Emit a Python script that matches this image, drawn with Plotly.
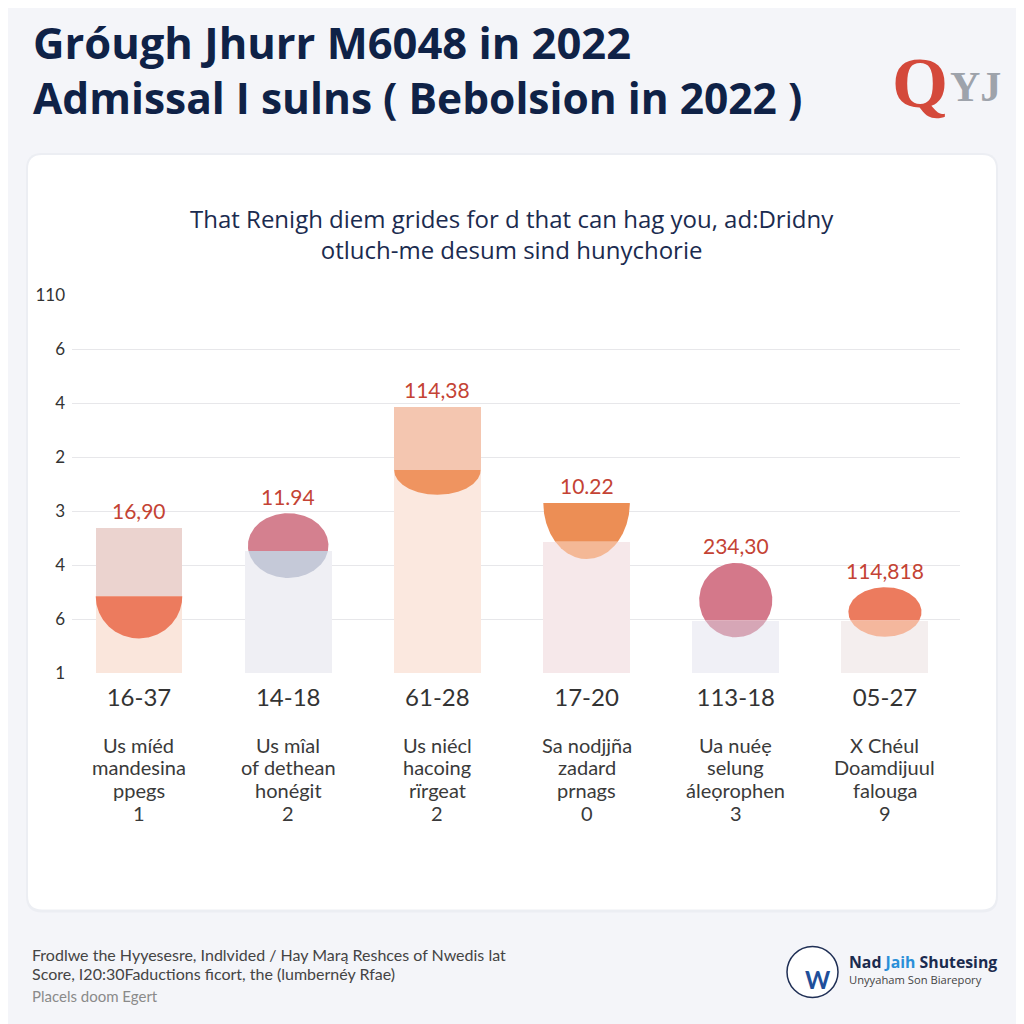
import numpy as np
import plotly.graph_objects as go

# ---------------- data ----------------
categories = ["16-37", "14-18", "61-28", "17-20", "113-18", "05-27"]
value_labels = ["16,90", "11.94", "114,38", "10.22", "234,30", "114,818"]
descriptions = [
    ["Us míéd", "mandesina", "ppegs", "1"],
    ["Us mîal", "of dethean", "honégit", "2"],
    ["Us niécl", "hacoing", "rïrgeat", "2"],
    ["Sa nodjjña", "zadard", "prnags", "0"],
    ["Ua nuéẹ", "selung", "áleọrophen", "3"],
    ["X Chéul", "Doamdijuul", "falouga", "9"],
]
bar_top = [2.69, 2.26, 4.93, 2.43, 0.97, 0.97]
band_bottom = [1.42, None, 3.76, None, None, None]
bulb_cy = [1.42, 2.36, 3.76, 3.15, 1.35, 1.13]
bulb_ry = [0.78, 0.60, 0.46, 1.04, 0.69, 0.46]
bulb_rx = [0.29, 0.27, 0.29, 0.29, 0.245, 0.245]
bulb_half = [True, False, True, True, False, False]
ytick_vals = [0, 1, 2, 3, 4, 5, 6, 7]
ytick_text = ["1", "6", "4", "3", "2", "4", "6", "110"]

# ---------------- styles ----------------
bar_colors = ["#fae6dc", "#efeff4", "#fbe8df", "#f6e8ea", "#f0f0f6", "#f4eeee"]
band_colors = ["#ebd3cf", None, "#f4c6b0", None, None, None]
bulb_above = ["#ec7b5e", "#d4808f", "#ef9460", "#ec8e55", "#d4788a", "#ec7b5e"]
bulb_below = ["#ec7b5e", "#c5c9d8", "#ef9460", "#f4b896", "#d6a6b6", "#f4b79d"]
NAVY = "#0f2247"
RED = "#c44334"
FONT = "Lato"
OS = "Open Sans"

# plot area in screen pixels (page body has an 8px margin)
OFF = 8
W = H = 1024 - OFF
L, R, T, B = 72, 960, 295, 673.3
def pxx(px):
    return (px - L) / (R - L)
def pxy(py):
    return (B - py) / (B - T)

fig = go.Figure()

xs = list(range(len(categories)))
fig.add_trace(go.Bar(x=xs, y=bar_top, width=0.583, marker=dict(color=bar_colors, line=dict(width=0)),
                     hoverinfo="skip", showlegend=False))
bx = [i for i in xs if band_bottom[i] is not None]
fig.add_trace(go.Bar(x=bx, y=[bar_top[i] - band_bottom[i] for i in bx], base=[band_bottom[i] for i in bx],
                     width=0.583, marker=dict(color=[band_colors[i] for i in bx], line=dict(width=0)),
                     hoverinfo="skip", showlegend=False))

def ellipse_segment(cx, cy, rx, ry, ylo, yhi, n=80):
    ylo = max(ylo, cy - ry)
    yhi = min(yhi, cy + ry)
    if yhi <= ylo:
        return None
    t0 = np.arcsin(np.clip((ylo - cy) / ry, -1, 1))
    t1 = np.arcsin(np.clip((yhi - cy) / ry, -1, 1))
    t = np.linspace(t0, t1, n)
    xr = cx + rx * np.cos(t)
    yr = cy + ry * np.sin(t)
    xl = cx - rx * np.cos(t[::-1])
    yl = cy + ry * np.sin(t[::-1])
    return np.concatenate([xr, xl, xr[:1]]), np.concatenate([yr, yl, yr[:1]])

for i in xs:
    top = bulb_cy[i] if bulb_half[i] else bulb_cy[i] + bulb_ry[i]
    bot = bulb_cy[i] - bulb_ry[i]
    for lo, hi, col in [(bar_top[i], top, bulb_above[i]), (bot, min(bar_top[i], top), bulb_below[i])]:
        seg = ellipse_segment(i, bulb_cy[i], bulb_rx[i], bulb_ry[i], lo, hi)
        if seg is None:
            continue
        fig.add_trace(go.Scatter(x=seg[0], y=seg[1], mode="lines", fill="toself", fillcolor=col,
                                 line=dict(width=0, color=col), hoverinfo="skip", showlegend=False))

annotations = []
for i in xs:
    top = bulb_cy[i] if bulb_half[i] else bulb_cy[i] + bulb_ry[i]
    ymark = max(bar_top[i], top)
    annotations.append(dict(x=i, y=ymark, xref="x", yref="y", text=value_labels[i], showarrow=False,
                            yanchor="middle", yshift=17, font=dict(family=FONT, size=21, color=RED)))
    for k, line in enumerate(descriptions[i]):
        annotations.append(dict(x=i, y=pxy(745 + 22.7 * k), xref="x", yref="paper", text=line,
                                showarrow=False, yanchor="middle", align="center",
                                font=dict(family=FONT, size=20, color="#3a3a3a")))

def txt(px, py, text, size, color, family=FONT, anchor="left", weight=None):
    f = dict(family=family, size=size, color=color)
    if weight:
        f["weight"] = weight
    return dict(x=pxx(px), y=pxy(py), xref="paper", yref="paper", xanchor=anchor, yanchor="middle",
                text=text, showarrow=False, font=f, align=anchor if anchor != "center" else "center")

annotations += [
    txt(31, 42, "Gróugh Jhurr M6048 in 2022", 43.5, NAVY, OS, weight=700),
    txt(31, 97, "Admissal I sulns ( Bebolsion in 2022 )", 42.5, NAVY, OS, weight=700),
    txt(512, 234, "That Renigh diem grides for d that can hag you, ad:Dridny<br>otluch-me desum sind hunychorie",
        24, "#1b2b4f", OS, "center", 500),
    txt(890, 83, "<b>Q</b>", 72, "#d4493b", "Liberation Serif"),
    txt(948, 87, "<b>YJ</b>", 42, "#9ea3ab", "Liberation Serif"),
    txt(30, 955, "Frodlwe the Hyyesesre, Indlvided / Hay Marą Reshces of Nwedis lat", 16, "#444444"),
    txt(30, 974, "Score, I20:30Faductions ficort, the (lumbernéy Rfae)", 16, "#444444"),
    txt(30, 997, "Placels doom Egert", 15, "#8a8a8a"),
    txt(818, 980, "<b>W</b>", 24, "#1f4f9a", anchor="center"),
    txt(847, 963, "Nad <span style='color:#2a8fd8'>Jaih</span> Shutesing", 15.8, "#1b2b4f", OS, weight=700),
    txt(847, 980, "Unyyaham Son Biarepory", 11.2, "#444444", OS),
]

def rounded_rect(x0, y0, x1, y1, r):
    pts = [
        f"M {pxx(x0 + r)} {pxy(y0)}", f"L {pxx(x1 - r)} {pxy(y0)}",
        f"Q {pxx(x1)} {pxy(y0)} {pxx(x1)} {pxy(y0 + r)}", f"L {pxx(x1)} {pxy(y1 - r)}",
        f"Q {pxx(x1)} {pxy(y1)} {pxx(x1 - r)} {pxy(y1)}", f"L {pxx(x0 + r)} {pxy(y1)}",
        f"Q {pxx(x0)} {pxy(y1)} {pxx(x0)} {pxy(y1 - r)}", f"L {pxx(x0)} {pxy(y0 + r)}",
        f"Q {pxx(x0)} {pxy(y0)} {pxx(x0 + r)} {pxy(y0)}", "Z",
    ]
    return " ".join(pts)

shapes = [
    dict(type="path", xref="paper", yref="paper", path=rounded_rect(26, 153, 998, 913, 16),
         fillcolor="#eceef3", line=dict(width=0), layer="below"),
    dict(type="path", xref="paper", yref="paper", path=rounded_rect(28, 155, 996, 910, 14),
         fillcolor="#ffffff", line=dict(width=0), layer="below"),
    dict(type="circle", xref="paper", yref="paper", x0=pxx(787), x1=pxx(838), y0=pxy(998), y1=pxy(947),
         fillcolor="#ffffff", line=dict(color="#1f2f55", width=1.5), layer="above"),
]

fig.update_layout(
    width=W, height=H,
    margin=dict(l=L - OFF, r=1024 - R, t=T - OFF, b=1024 - B),
    paper_bgcolor="#f4f5f9", plot_bgcolor="rgba(0,0,0,0)",
    barmode="overlay", bargap=0, showlegend=False,
    annotations=annotations, shapes=shapes,
    xaxis=dict(range=[-0.449, 5.503], tickvals=xs, ticktext=categories, showgrid=False, zeroline=False,
               showline=False, ticks="", ticklabelstandoff=8,
               tickfont=dict(family=FONT, size=24, color="#333333"), fixedrange=True),
    yaxis=dict(range=[0, 7], tickvals=ytick_vals, ticktext=ytick_text, showgrid=True, gridcolor="#e7e7ea",
               gridwidth=1, zeroline=False, showline=False, ticks="", ticklabelstandoff=6,
               tickfont=dict(family=FONT, size=17, color="#333333"), fixedrange=True),
)

fig.write_html("out.html")
